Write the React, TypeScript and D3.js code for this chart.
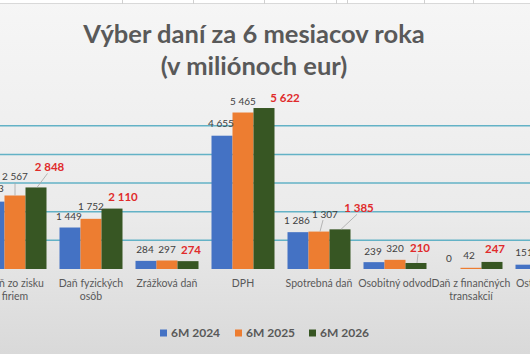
import React from "react";
import * as d3 from "d3";

const categories: string[][] = [
  ["Daň zo zisku", "firiem"],
  ["Daň fyzických", "osôb"],
  ["Zrážková daň"],
  ["DPH"],
  ["Spotrebná daň"],
  ["Osobitný odvod"],
  ["Daň z finančných", "transakcií"],
  ["Ostatné dane"],
];
const seriesNames = ["6M 2024", "6M 2025", "6M 2026"];
const s2024: (number | null)[] = [2353, 1449, 284, 4655, 1286, 239, 0, 151];
const s2025: (number | null)[] = [2567, 1752, 297, 5465, 1307, 320, 42, null];
const s2026: (number | null)[] = [2848, 2110, 274, 5622, 1385, 210, 247, null];
const gridTicks = [1000, 2000, 3000, 4000, 5000];

// manual data-label offsets (dx, dy from bar top to label centre), as moved in the original
const labelOffsets2024 = [[-3, -13], [-1, -11], [-1, -11], [-1, -12], [-1, -12], [-1, -11], [-1, -11], [-2, -12]];
const labelOffsets2025 = [[0, -18.5], [0, -12], [0, -11], [0, -11], [6, -17.5], [0, -11], [-2, -12], [0, -11]];
const labelOffsets2026 = [[13.5, -20], [11, -11.5], [3, -11], [21, -10], [19, -21], [4, -15], [3, -13], [0, -11]];

const W = 530;
const H = 354;
const colors = ["#4472C4", "#ED7D31", "#375623"];
const FONT = "Lato, 'Open Sans', sans-serif";

export default function App() {
  const series = [s2024, s2025, s2026];
  const offsets = [labelOffsets2024, labelOffsets2025, labelOffsets2026];
  const idx = categories.map((_, i) => String(i));

  const x0 = d3.scaleBand<string>().domain(idx).range([-23, 585]).paddingInner(13 / 76).paddingOuter(13 / 152);
  const x1 = d3.scaleBand<string>().domain(["0", "1", "2"]).range([0, x0.bandwidth()]);
  const y = d3.scaleLinear().domain([0, 6000]).range([269, 97.2]);

  const topCols = [122, 193, 264, 336, 347, 424, 473];

  return (
    <svg width={W} height={H} style={{ position: "fixed", left: 0, top: 0 }} fontFamily={FONT}>
      <defs>
        <linearGradient id="bg" x1="0" y1="0" x2="0" y2="1">
          <stop offset="0" stopColor="#f6f6f6" />
          <stop offset="0.6" stopColor="#ebebeb" />
          <stop offset="1" stopColor="#d9d9d9" />
        </linearGradient>
      </defs>
      <rect x={0} y={0} width={W} height={H} fill="url(#bg)" />
      <rect x={0} y={0} width={W} height={4} fill="#ffffff" />
      <line x1={0} x2={W} y1={3.5} y2={3.5} stroke="#d9d9d9" />
      {topCols.map((c) => (
        <line key={c} x1={c + 0.5} x2={c + 0.5} y1={0} y2={4} stroke="#d0d0d0" />
      ))}

      <text x={254} y={43} textAnchor="middle" fontSize={25.5} fontWeight={700} fill="#595959">
        Výber daní za 6 mesiacov roka
      </text>
      <text x={254} y={75} textAnchor="middle" fontSize={25.5} fontWeight={700} fill="#595959">
        (v miliónoch eur)
      </text>

      {gridTicks.map((t) => (
        <line key={t} x1={0} x2={W} y1={y(t)} y2={y(t)} stroke="#63b2c6" strokeWidth={1.5} />
      ))}

      {categories.map((cat, i) => (
        <g key={i} transform={`translate(${x0(String(i))},0)`}>
          {series.map((s, k) => {
            const v = s[i];
            if (v == null) return null;
            const bx = x1(String(k))!;
            const top = y(v);
            return (
              <rect key={k} x={bx} y={top} width={x1.bandwidth()} height={y(0) - top} fill={colors[k]} />
            );
          })}
        </g>
      ))}

      {categories.map((cat, i) =>
        series.map((s, k) => {
          const v = s[i];
          if (v == null) return null;
          const cx = x0(String(i))! + x1(String(k))! + x1.bandwidth() / 2;
          const top = y(v);
          const [dx, dy] = offsets[k][i];
          const lx = cx + dx;
          const ly = top + dy;
          const red = k === 2;
          const leader = dy < -14;
          return (
            <g key={`${i}-${k}`}>
              {leader && (
                <line x1={cx + (dx > 3 ? 1 : 0)} y1={top} x2={lx - (dx > 3 ? 2 : 0)} y2={ly + 6} stroke="#a6a6a6" strokeWidth={0.8} />
              )}
              <text
                x={lx}
                y={ly}
                dy="0.35em"
                textAnchor="middle"
                fontSize={red ? 11.5 : 10}
                fontWeight={red ? 700 : 400}
                fill={red ? "#e02b2b" : "#404040"}
              >
                {d3.format(",")(v).replace(/,/g, " ")}
              </text>
            </g>
          );
        })
      )}

      {categories.map((cat, i) => {
        const cx = x0(String(i))! + x0.bandwidth() / 2;
        return (
          <text key={i} x={cx} y={283} textAnchor="middle" fontSize={10.5} fill="#595959">
            {cat.map((line, j) => (
              <tspan key={j} x={cx} y={283 + j * 13.5} dy="0.35em">
                {line}
              </tspan>
            ))}
          </text>
        );
      })}

      <g transform="translate(160,333)">
        {seriesNames.map((n, k) => (
          <g key={n} transform={`translate(${[0, 75, 149][k]},0)`}>
            <rect x={0} y={-3.5} width={7} height={7} fill={colors[k]} />
            <text x={11} y={0} dy="0.35em" fontSize={12} fontWeight={700} fill="#595959">
              {n}
            </text>
          </g>
        ))}
      </g>
    </svg>
  );
}
